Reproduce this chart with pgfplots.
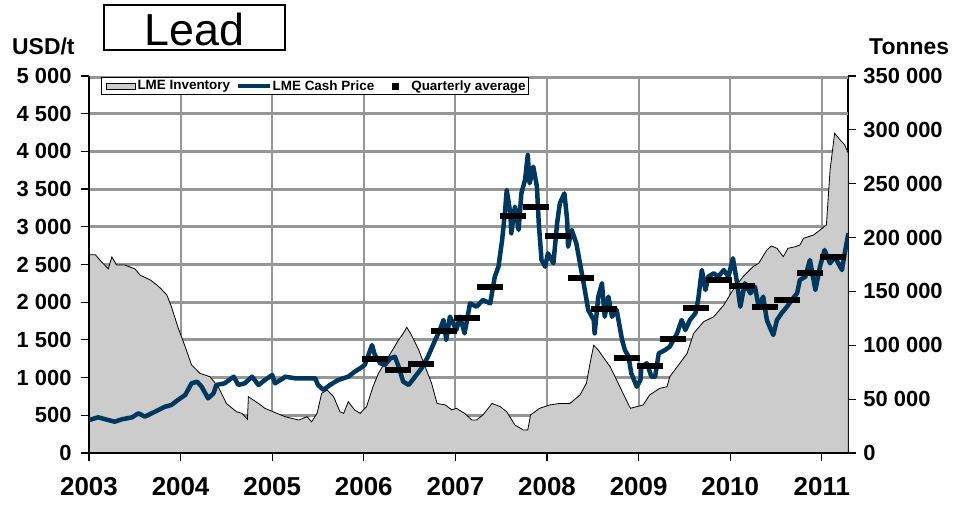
\documentclass[border=0pt]{standalone}
\usepackage{pgfplots}
\pgfplotsset{compat=1.18}
\usepackage{fontspec}
\setmainfont{Liberation Sans}
\definecolor{pricecol}{RGB}{0,55,95}
\definecolor{invgray}{RGB}{204,204,204}
\definecolor{gridcol}{RGB}{150,150,150}
\begin{document}
\begin{tikzpicture}
\path[use as bounding box] (0,0) rectangle (955bp,505bp);
\pgfplotsset{
  chartbase/.style={at={(89bp,52bp)}, anchor=south west, scale only axis,
    width=759bp, height=377bp, xmin=2003, xmax=2011.286, clip=true},
  gridbar/.style={fill=gridcol, draw=none, forget plot},
}
% inventory (right axis), grid of the chart drawn underneath the area
\begin{axis}[chartbase, ymin=0, ymax=350000,
  axis x line=none, axis y line*=right,
  y axis line style={-, line width=2bp, black},
  ytick={0,50000,100000,150000,200000,250000,300000,350000},
  yticklabels={0,50 000,100 000,150 000,200 000,250 000,300 000,350 000},
  tick align=outside, major tick length=8bp,
  y tick style={black, line width=1.2bp},
  yticklabel style={font=\bfseries\fontsize{22}{24}\selectfont, xshift=4bp},
  scaled y ticks=false]
% vertical grid bars at the years
\addplot[gridbar] coordinates {(2003.990,0) (2003.990,350000) (2004.010,350000) (2004.010,0)} -- cycle;
\addplot[gridbar] coordinates {(2004.990,0) (2004.990,350000) (2005.010,350000) (2005.010,0)} -- cycle;
\addplot[gridbar] coordinates {(2005.990,0) (2005.990,350000) (2006.010,350000) (2006.010,0)} -- cycle;
\addplot[gridbar] coordinates {(2006.990,0) (2006.990,350000) (2007.010,350000) (2007.010,0)} -- cycle;
\addplot[gridbar] coordinates {(2007.990,0) (2007.990,350000) (2008.010,350000) (2008.010,0)} -- cycle;
\addplot[gridbar] coordinates {(2008.990,0) (2008.990,350000) (2009.010,350000) (2009.010,0)} -- cycle;
\addplot[gridbar] coordinates {(2009.990,0) (2009.990,350000) (2010.010,350000) (2010.010,0)} -- cycle;
\addplot[gridbar] coordinates {(2010.990,0) (2010.990,350000) (2011.010,350000) (2011.010,0)} -- cycle;
% horizontal grid bars every 500 USD/t of the left scale (= 35 000 t)
\addplot[gridbar] coordinates {(2003,33650) (2003,36350) (2011.286,36350) (2011.286,33650)} -- cycle;
\addplot[gridbar] coordinates {(2003,68650) (2003,71350) (2011.286,71350) (2011.286,68650)} -- cycle;
\addplot[gridbar] coordinates {(2003,103650) (2003,106350) (2011.286,106350) (2011.286,103650)} -- cycle;
\addplot[gridbar] coordinates {(2003,138650) (2003,141350) (2011.286,141350) (2011.286,138650)} -- cycle;
\addplot[gridbar] coordinates {(2003,173650) (2003,176350) (2011.286,176350) (2011.286,173650)} -- cycle;
\addplot[gridbar] coordinates {(2003,208650) (2003,211350) (2011.286,211350) (2011.286,208650)} -- cycle;
\addplot[gridbar] coordinates {(2003,243650) (2003,246350) (2011.286,246350) (2011.286,243650)} -- cycle;
\addplot[gridbar] coordinates {(2003,278650) (2003,281350) (2011.286,281350) (2011.286,278650)} -- cycle;
\addplot[gridbar] coordinates {(2003,313650) (2003,316350) (2011.286,316350) (2011.286,313650)} -- cycle;
\addplot[gridbar] coordinates {(2003,347300) (2003,350000) (2011.286,350000) (2011.286,347300)} -- cycle;
\addplot[draw=black, line width=0.8bp, fill=invgray] coordinates {
(2003.00,184000) (2003.07,184000) (2003.12,179000) (2003.21,171000) (2003.25,182000)
(2003.30,174500) (2003.39,174500) (2003.50,171000) (2003.56,165000) (2003.67,160600)
(2003.74,156000) (2003.78,153000) (2003.85,146700) (2003.90,135800) (2003.97,117000)
(2004.05,98700) (2004.12,81700) (2004.21,74000) (2004.32,70800) (2004.41,61500)
(2004.50,46000) (2004.61,38300) (2004.67,36800) (2004.73,31300) (2004.74,52300)
(2004.85,46000) (2004.92,41500) (2005.01,38300) (2005.14,33700) (2005.29,30600)
(2005.38,33700) (2005.43,29000) (2005.49,36800) (2005.54,55400) (2005.60,58500)
(2005.67,52300) (2005.74,38300) (2005.78,36800) (2005.83,47600) (2005.90,40000)
(2005.96,36800) (2006.03,43000) (2006.10,61500) (2006.16,74000) (2006.27,89400)
(2006.38,105000) (2006.43,111000) (2006.47,116700) (2006.52,109500) (2006.60,95600)
(2006.67,80000) (2006.74,64700) (2006.80,46000) (2006.89,44600) (2006.96,40000)
(2007.01,41500) (2007.10,36800) (2007.18,30600) (2007.23,30600) (2007.30,35300)
(2007.40,46000) (2007.49,43000) (2007.56,38300) (2007.65,26000) (2007.74,21400)
(2007.79,21400) (2007.82,35300) (2007.92,41500) (2008.03,44600) (2008.14,46000)
(2008.25,46000) (2008.36,53900) (2008.43,64700) (2008.47,83300) (2008.51,100000)
(2008.56,95600) (2008.61,89400) (2008.69,80000) (2008.76,67800) (2008.83,55400)
(2008.91,41500) (2009.05,44600) (2009.12,53900) (2009.23,60000) (2009.31,61500)
(2009.34,70800) (2009.45,83300) (2009.53,92600) (2009.60,111000) (2009.71,121900)
(2009.82,126500) (2009.93,137400) (2010.03,151300) (2010.14,163700) (2010.25,173000)
(2010.31,176000) (2010.40,188500) (2010.45,192200) (2010.51,190000) (2010.58,182300)
(2010.63,190000) (2010.71,191500) (2010.76,193000) (2010.80,199300) (2010.91,202400)
(2010.98,207000) (2011.05,211700) (2011.09,262700) (2011.14,296800) (2011.20,290600)
(2011.25,286000) (2011.29,278000)
} \closedcycle;
\end{axis}
% price (left axis)
\begin{axis}[chartbase, ymin=0, ymax=5000,
  axis x line*=bottom, axis y line*=left,
  axis line style={-, black},
  x axis line style={line width=2.6bp},
  y axis line style={line width=2.6bp},
  xtick={2003,2004,2005,2006,2007,2008,2009,2010,2011},
  xticklabels={2003,2004,2005,2006,2007,2008,2009,2010,2011},
  ytick={0,500,1000,1500,2000,2500,3000,3500,4000,4500,5000},
  yticklabels={0,500,1 000,1 500,2 000,2 500,3 000,3 500,4 000,4 500,5 000},
  tick align=outside, major tick length=8bp,
  tick style={black, line width=1.2bp},
  yticklabel style={font=\bfseries\fontsize{22}{24}\selectfont, xshift=-6bp},
  xticklabel style={font=\bfseries\fontsize{26}{28}\selectfont, yshift=-13bp},
  clip marker paths=true,
  legend columns=3,
  legend style={at={(0,1)}, anchor=north west, xshift=12bp, yshift=-1bp,
    draw=black, line width=1bp, fill=white,
    font=\bfseries\fontsize{13.5}{15}\selectfont,
    inner xsep=2bp, inner ysep=1.5bp,
    nodes={inner xsep=1bp, inner ysep=1.5bp},
    /tikz/every odd column/.append style={column sep=0bp},
    /tikz/every even column/.append style={column sep=5bp}},
  ]
\addlegendimage{legend image code/.code={
  \path[draw=none, fill=none] (0bp,-5bp) rectangle (33bp,5bp);
  \draw[fill=invgray, draw=black, line width=0.8bp] (2.7bp,-3bp) rectangle (31.7bp,3bp);}}
\addlegendentry{LME Inventory}
\addlegendimage{legend image code/.code={
  \draw[pricecol, line width=3.5bp] (0bp,0bp) -- (32bp,0bp);}}
\addlegendentry{LME Cash Price}
\addlegendimage{legend image code/.code={
  \path[draw=none, fill=none] (0bp,-5bp) rectangle (30bp,5bp);
  \fill[black] (12bp,-3bp) rectangle (18bp,3bp);}}
\addlegendentry{Quarterly average}

\addplot[pricecol, line width=4.5bp, line join=round, forget plot] coordinates {
(2003.00,437) (2003.10,473) (2003.21,437) (2003.28,415) (2003.36,447) (2003.47,473)
(2003.54,527) (2003.61,482) (2003.72,548) (2003.83,614) (2003.90,637) (2003.97,703)
(2004.05,769) (2004.12,924) (2004.18,946) (2004.23,879) (2004.30,725) (2004.36,792)
(2004.39,902) (2004.48,924) (2004.58,1012) (2004.63,902) (2004.70,924) (2004.78,1012)
(2004.85,902) (2004.92,968) (2005.00,1034) (2005.03,924) (2005.12,991) (2005.14,1012)
(2005.25,991) (2005.36,991) (2005.47,991) (2005.50,902) (2005.56,836) (2005.63,902)
(2005.72,968) (2005.83,1012) (2005.90,1078) (2005.96,1123) (2006.01,1167) (2006.05,1300)
(2006.09,1432) (2006.12,1300) (2006.18,1190) (2006.23,1167) (2006.29,1256) (2006.34,1277)
(2006.38,1145) (2006.43,946) (2006.49,902) (2006.56,1012) (2006.63,1123) (2006.70,1277)
(2006.78,1499) (2006.83,1631) (2006.87,1764) (2006.90,1499) (2006.94,1808) (2007.01,1631)
(2007.05,1808) (2007.10,1587) (2007.16,1985) (2007.23,1940) (2007.30,2029) (2007.38,1985)
(2007.43,2338) (2007.47,2471) (2007.51,2825) (2007.54,3179) (2007.56,3488) (2007.60,3179)
(2007.61,2914) (2007.65,3267) (2007.69,2958) (2007.72,3444) (2007.76,3621) (2007.79,3952)
(2007.81,3577) (2007.85,3797) (2007.89,3532) (2007.91,3046) (2007.94,2560) (2007.98,2471)
(2008.01,2648) (2008.07,2516) (2008.11,3046) (2008.14,3311) (2008.19,3444) (2008.22,3090)
(2008.23,2736) (2008.27,2958) (2008.32,2781) (2008.36,2516) (2008.40,2251) (2008.45,1897)
(2008.51,1764) (2008.52,1587) (2008.56,2073) (2008.60,2251) (2008.63,1808) (2008.67,2073)
(2008.71,1808) (2008.76,1897) (2008.82,1499) (2008.85,1366) (2008.89,1278) (2008.92,1057)
(2008.98,879) (2009.02,968) (2009.03,1145) (2009.09,1190) (2009.14,1012) (2009.18,1012)
(2009.22,1322) (2009.29,1366) (2009.34,1410) (2009.42,1587) (2009.47,1764) (2009.51,1631)
(2009.56,1764) (2009.62,1853) (2009.65,2029) (2009.69,2427) (2009.73,2162) (2009.76,2338)
(2009.82,2383) (2009.87,2338) (2009.93,2427) (2009.98,2338) (2010.03,2582) (2010.07,2294)
(2010.11,1940) (2010.16,2251) (2010.22,2118) (2010.27,2206) (2010.31,1940) (2010.36,2073)
(2010.40,1764) (2010.43,1675) (2010.47,1565) (2010.51,1764) (2010.56,1853) (2010.62,1940)
(2010.67,2029) (2010.73,2118) (2010.76,2294) (2010.82,2338) (2010.87,2560) (2010.93,2162)
(2010.98,2471) (2011.03,2692) (2011.09,2516) (2011.14,2604) (2011.22,2427) (2011.25,2648)
(2011.29,2914)
};
\addplot[only marks, mark=-, mark size=13bp, mark options={black, line width=6bp}, forget plot] coordinates {
(2006.125,1243) (2006.375,1101) (2006.625,1180) (2006.875,1622)
(2007.125,1786) (2007.375,2198) (2007.625,3147) (2007.875,3267)
(2008.125,2878) (2008.375,2325) (2008.625,1910) (2008.875,1256)
(2009.125,1154) (2009.375,1508) (2009.625,1923) (2009.875,2294)
(2010.125,2219) (2010.375,1940) (2010.625,2029) (2010.875,2391)
(2011.125,2604) (2011.375,2834)
};
\end{axis}
% titles and unit labels
\draw[black, line width=2bp] (104bp,455bp) rectangle (285bp,500bp);
\node[font=\fontsize{45}{50}\selectfont, inner sep=0pt] at (194.5bp,476bp) {Lead};
\node[anchor=west, font=\bfseries\fontsize{23}{25}\selectfont, inner sep=0pt] at (12bp,459bp) {USD/t};
\node[anchor=west, font=\bfseries\fontsize{23}{25}\selectfont, inner sep=0pt] at (869bp,458bp) {Tonnes};
\end{tikzpicture}
\end{document}
